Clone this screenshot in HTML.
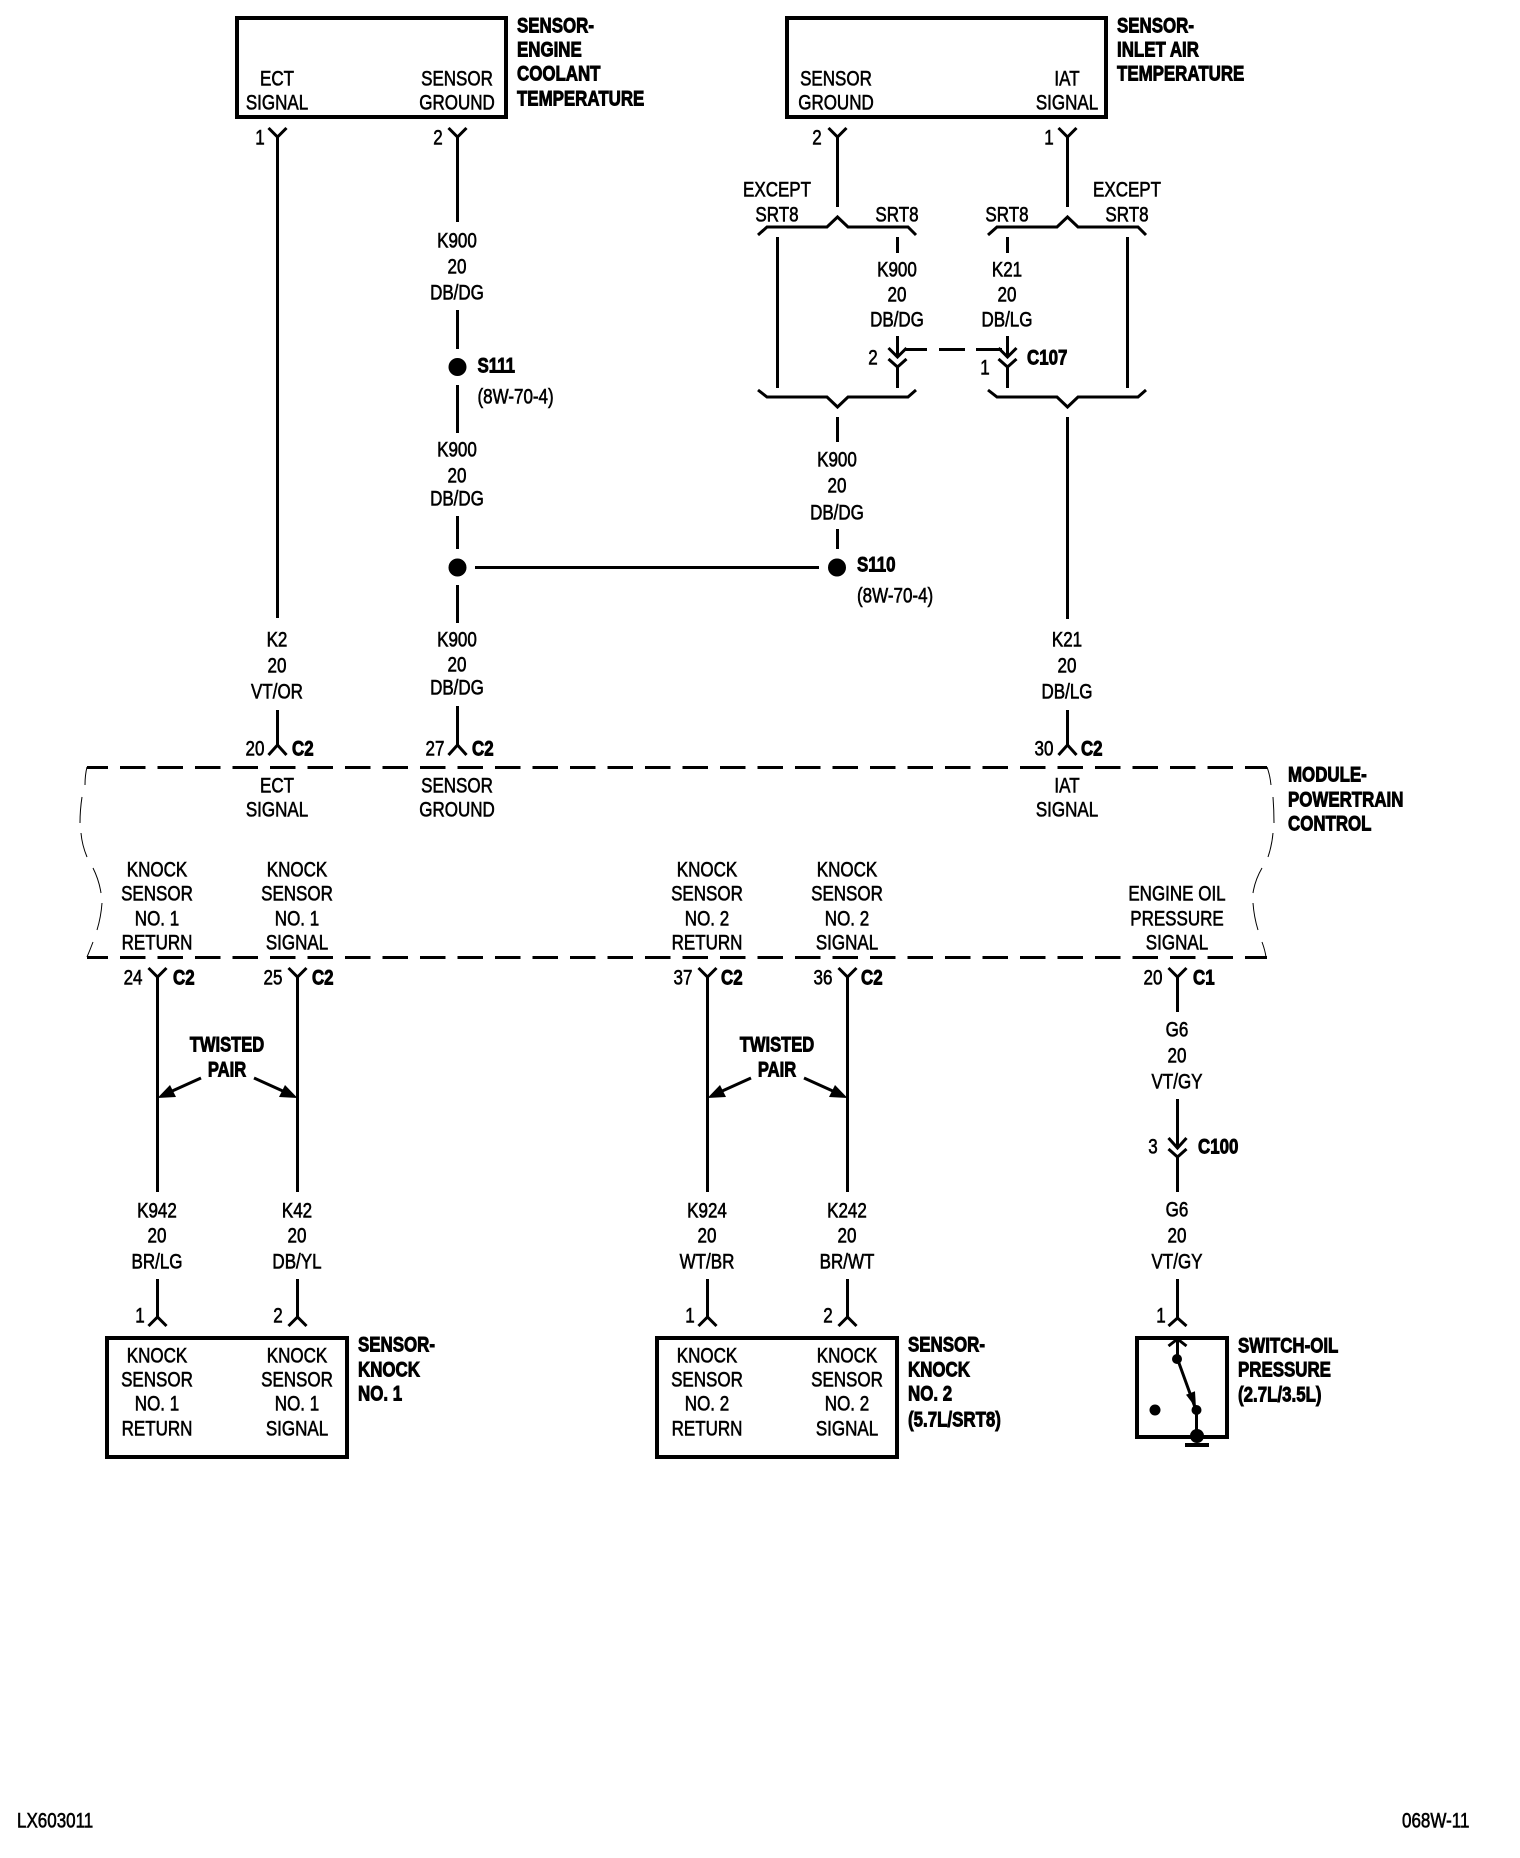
<!DOCTYPE html>
<html><head><meta charset="utf-8"><title>Diagram</title>
<style>
html,body{margin:0;padding:0;background:#fff}
svg{display:block}
text{font-family:"Liberation Sans",sans-serif;font-size:21px;fill:#000;stroke:#000;stroke-width:.6px;text-anchor:middle;transform:scaleX(.81);transform-box:fill-box;transform-origin:50% 50%}
.b{font-weight:bold;text-anchor:start;transform:scaleX(.805);transform-origin:0 50%;stroke-width:.9px}
.s{text-anchor:start;transform-origin:0 50%}
.t{font-weight:bold;transform:scaleX(.79);stroke-width:.9px}
</style></head><body>
<svg width="1520" height="1858" viewBox="0 0 1520 1858" xmlns="http://www.w3.org/2000/svg">
<rect width="1520" height="1858" fill="#fff"/>
<g fill="none" stroke="#000" stroke-width="3">
<!-- boxes -->
<rect x="237" y="18" width="269" height="99" stroke-width="4"/>
<rect x="787" y="18" width="319" height="99" stroke-width="4"/>
<rect x="107" y="1338" width="240" height="119" stroke-width="4"/>
<rect x="657" y="1338" width="240" height="119" stroke-width="4"/>
<rect x="1137" y="1338" width="90" height="99" stroke-width="4"/>
<!-- top connectors and wires -->
<path d="M268.5 128L277.5 137L286.5 128M277.5 137V618"/>
<path d="M448.5 128L457.5 137L466.5 128M457.5 137V222"/>
<path d="M457.5 310V349M457.5 385V433M457.5 516V549M457.5 585V623M457.5 706V745"/>
<path d="M277.5 710V745M1067.5 710V745"/>
<path d="M828.5 128L837.5 137L846.5 128M837.5 137V207"/>
<path d="M1058.5 128L1067.5 137L1076.5 128M1067.5 137V207"/>
<!-- braces -->
<path d="M758 235L767 227H827L837.5 217L848 227H908L916 235"/>
<path d="M988 235L997 227H1057L1067.5 217L1078 227H1138L1146 235"/>
<path d="M758 390L767 397H827L837.5 407L848 397H908L916 390"/>
<path d="M988 390L997 397H1057L1067.5 407L1078 397H1138L1146 390"/>
<path d="M777.5 237V388M1127.5 237V388M897.5 237V253M1007.5 237V253"/>
<path d="M897.5 336V357M888.5 348L897.5 357L906.5 348M888.5 359L897.5 367L906.5 359M897.5 367V388"/>
<path d="M1007.5 336V357M998.5 348L1007.5 357L1016.5 348M998.5 359L1007.5 367L1016.5 359M1007.5 367V388"/>
<path d="M905 349.5H927M939 349.5H965M976 349.5H1002"/>
<path d="M837.5 417V442M837.5 529V549M1067.5 417V619"/>
<path d="M475 567.5H819"/>
<!-- inverted connectors above module -->
<path d="M268.5 755L277.5 745L286.5 755M448.5 755L457.5 745L466.5 755M1058.5 755L1067.5 745L1076.5 755"/>
<!-- module dashes -->
<path d="M87 767.5H1267M87 957.5H1267" stroke-dasharray="25.5 12" stroke-dashoffset="4.5"/>
<!-- lower connectors -->
<path d="M148.5 968L157.5 977L166.5 968M157.5 977V1192M157.5 1279V1317M148.5 1326L157.5 1317L166.5 1326"/>
<path d="M288.5 968L297.5 977L306.5 968M297.5 977V1192M297.5 1279V1317M288.5 1326L297.5 1317L306.5 1326"/>
<path d="M698.5 968L707.5 977L716.5 968M707.5 977V1192M707.5 1279V1317M698.5 1326L707.5 1317L716.5 1326"/>
<path d="M838.5 968L847.5 977L856.5 968M847.5 977V1192M847.5 1279V1317M838.5 1326L847.5 1317L856.5 1326"/>
<path d="M1168.5 968L1177.5 977L1186.5 968M1177.5 977V1012"/>
<path d="M1177.5 1099V1148M1168.5 1138L1177.5 1148L1186.5 1138M1168.5 1149L1177.5 1157L1186.5 1149M1177.5 1157V1192"/>
<path d="M1177.5 1279V1318M1168.5 1326L1177.5 1318L1186.5 1326"/>
<!-- switch -->
<path d="M1177.5 1339V1359M1168.5 1346L1177.5 1339L1186.5 1346"/>
<path d="M1177.5 1359L1196 1410M1196.5 1410V1437"/>
<path d="M1185 1445H1209" stroke-width="4"/>
<!-- twisted pair arrows -->
<path d="M201 1078L170 1092M254 1078L285 1092M751 1078L720 1092M804 1078L835 1092"/>
</g>
<g fill="#000">
<circle cx="457.5" cy="367" r="9"/><circle cx="457.5" cy="567.5" r="9"/><circle cx="837" cy="567.5" r="9"/>
<circle cx="1177" cy="1359" r="5"/><circle cx="1196.5" cy="1410" r="5"/><circle cx="1155" cy="1410" r="5.5"/><circle cx="1197" cy="1436" r="7"/>
<path d="M1196 1408L1186 1394.7L1195 1391.3Z"/>
<path d="M157.5 1098L170 1085L176 1097Z"/><path d="M297.5 1098L285 1085L279 1097Z"/>
<path d="M707.5 1098L720 1085L726 1097Z"/><path d="M847.5 1098L835 1085L829 1097Z"/>
</g>
<g fill="none" stroke="#000" stroke-width="1">
<path d="M87 767Q85 775 85 785M82 797Q80 810 80 823M81 833Q82 845 87 857M93 868Q99 880 101 893M102 903Q101 917 97 930M93 942Q90 950 87 957"/>
<path d="M1267 767Q1270 775 1271 785M1273 797Q1274 810 1274 823M1273 833Q1272 845 1268 857M1262 868Q1255 880 1253 893M1253 903Q1254 917 1258 930M1262 942Q1265 950 1266 957"/>
</g>
<g transform="translate(0,-.5)">
<!-- box 1 -->
<text x="277" y="86">ECT</text><text x="277" y="110">SIGNAL</text>
<text x="457" y="86">SENSOR</text><text x="457" y="110">GROUND</text>
<text class="b" x="517" y="33">SENSOR-</text><text class="b" x="517" y="57">ENGINE</text><text class="b" x="517" y="81">COOLANT</text><text class="b" x="517" y="106">TEMPERATURE</text>
<text x="260" y="145">1</text><text x="438" y="145">2</text>
<!-- box 2 -->
<text x="836" y="86">SENSOR</text><text x="836" y="110">GROUND</text>
<text x="1067" y="86">IAT</text><text x="1067" y="110">SIGNAL</text>
<text class="b" x="1117" y="33">SENSOR-</text><text class="b" x="1117" y="57">INLET AIR</text><text class="b" x="1117" y="81">TEMPERATURE</text>
<text x="817" y="145">2</text><text x="1049" y="145">1</text>
<!-- except group -->
<text x="777" y="197">EXCEPT</text><text x="777" y="222">SRT8</text><text x="897" y="222">SRT8</text>
<text x="1007" y="222">SRT8</text><text x="1127" y="197">EXCEPT</text><text x="1127" y="222">SRT8</text>
<text x="897" y="277">K900</text><text x="897" y="302">20</text><text x="897" y="327">DB/DG</text>
<text x="1007" y="277">K21</text><text x="1007" y="302">20</text><text x="1007" y="327">DB/LG</text>
<text x="873" y="365">2</text><text x="985" y="375">1</text><text class="b" x="1027" y="365">C107</text>
<!-- K900 column -->
<text x="457" y="248">K900</text><text x="457" y="274">20</text><text x="457" y="300">DB/DG</text>
<text class="b" x="477.5" y="373">S111</text><text class="s" x="477.5" y="404">(8W-70-4)</text>
<text x="457" y="457">K900</text><text x="457" y="483">20</text><text x="457" y="506">DB/DG</text>
<text x="837" y="467">K900</text><text x="837" y="493">20</text><text x="837" y="520">DB/DG</text>
<text class="b" x="857" y="572">S110</text><text class="s" x="857" y="603">(8W-70-4)</text>
<text x="277" y="647">K2</text><text x="277" y="673">20</text><text x="277" y="699">VT/OR</text>
<text x="457" y="647">K900</text><text x="457" y="672">20</text><text x="457" y="695">DB/DG</text>
<text x="1067" y="647">K21</text><text x="1067" y="673">20</text><text x="1067" y="699">DB/LG</text>
<text x="255" y="756">20</text><text class="b" x="292" y="756">C2</text>
<text x="435" y="756">27</text><text class="b" x="472" y="756">C2</text>
<text x="1044" y="756">30</text><text class="b" x="1081" y="756">C2</text>
<!-- module -->
<text x="277" y="793">ECT</text><text x="277" y="817">SIGNAL</text>
<text x="457" y="793">SENSOR</text><text x="457" y="817">GROUND</text>
<text x="1067" y="793">IAT</text><text x="1067" y="817">SIGNAL</text>
<text class="b" x="1288" y="782">MODULE-</text><text class="b" x="1288" y="807">POWERTRAIN</text><text class="b" x="1288" y="831">CONTROL</text>
<text x="157" y="877">KNOCK</text><text x="157" y="901">SENSOR</text><text x="157" y="926">NO. 1</text><text x="157" y="950">RETURN</text>
<text x="297" y="877">KNOCK</text><text x="297" y="901">SENSOR</text><text x="297" y="926">NO. 1</text><text x="297" y="950">SIGNAL</text>
<text x="707" y="877">KNOCK</text><text x="707" y="901">SENSOR</text><text x="707" y="926">NO. 2</text><text x="707" y="950">RETURN</text>
<text x="847" y="877">KNOCK</text><text x="847" y="901">SENSOR</text><text x="847" y="926">NO. 2</text><text x="847" y="950">SIGNAL</text>
<text x="1177" y="901">ENGINE OIL</text><text x="1177" y="926">PRESSURE</text><text x="1177" y="950">SIGNAL</text>
<!-- connector labels below module -->
<text x="133" y="985">24</text><text class="b" x="173" y="985">C2</text>
<text x="273" y="985">25</text><text class="b" x="312" y="985">C2</text>
<text x="683" y="985">37</text><text class="b" x="721" y="985">C2</text>
<text x="823" y="985">36</text><text class="b" x="861" y="985">C2</text>
<text x="1153" y="985">20</text><text class="b" x="1193" y="985">C1</text>
<text x="1177" y="1037">G6</text><text x="1177" y="1063">20</text><text x="1177" y="1089">VT/GY</text>
<text x="1153" y="1154">3</text><text class="b" x="1198" y="1154">C100</text>
<!-- twisted pair -->
<text class="t" x="227" y="1052">TWISTED</text><text class="t" x="227" y="1077">PAIR</text>
<text class="t" x="777" y="1052">TWISTED</text><text class="t" x="777" y="1077">PAIR</text>
<!-- wire labels lower -->
<text x="157" y="1218">K942</text><text x="157" y="1243">20</text><text x="157" y="1269">BR/LG</text>
<text x="297" y="1218">K42</text><text x="297" y="1243">20</text><text x="297" y="1269">DB/YL</text>
<text x="707" y="1218">K924</text><text x="707" y="1243">20</text><text x="707" y="1269">WT/BR</text>
<text x="847" y="1218">K242</text><text x="847" y="1243">20</text><text x="847" y="1269">BR/WT</text>
<text x="1177" y="1217">G6</text><text x="1177" y="1243">20</text><text x="1177" y="1269">VT/GY</text>
<text x="140" y="1323">1</text><text x="278" y="1323">2</text>
<text x="690" y="1323">1</text><text x="828" y="1323">2</text>
<text x="1161" y="1323">1</text>
<!-- bottom boxes -->
<text x="157" y="1363">KNOCK</text><text x="157" y="1387">SENSOR</text><text x="157" y="1411">NO. 1</text><text x="157" y="1436">RETURN</text>
<text x="297" y="1363">KNOCK</text><text x="297" y="1387">SENSOR</text><text x="297" y="1411">NO. 1</text><text x="297" y="1436">SIGNAL</text>
<text class="b" x="358" y="1352">SENSOR-</text><text class="b" x="358" y="1377">KNOCK</text><text class="b" x="358" y="1401">NO. 1</text>
<text x="707" y="1363">KNOCK</text><text x="707" y="1387">SENSOR</text><text x="707" y="1411">NO. 2</text><text x="707" y="1436">RETURN</text>
<text x="847" y="1363">KNOCK</text><text x="847" y="1387">SENSOR</text><text x="847" y="1411">NO. 2</text><text x="847" y="1436">SIGNAL</text>
<text class="b" x="908" y="1352">SENSOR-</text><text class="b" x="908" y="1377">KNOCK</text><text class="b" x="908" y="1401">NO. 2</text><text class="b" x="908" y="1427">(5.7L/SRT8)</text>
<text class="b" x="1238" y="1353">SWITCH-OIL</text><text class="b" x="1238" y="1377">PRESSURE</text><text class="b" x="1238" y="1402">(2.7L/3.5L)</text>
<text class="s" x="17" y="1828">LX603011</text><text class="s" x="1402" y="1828">068W-11</text>
</g>
</svg>
</body></html>
